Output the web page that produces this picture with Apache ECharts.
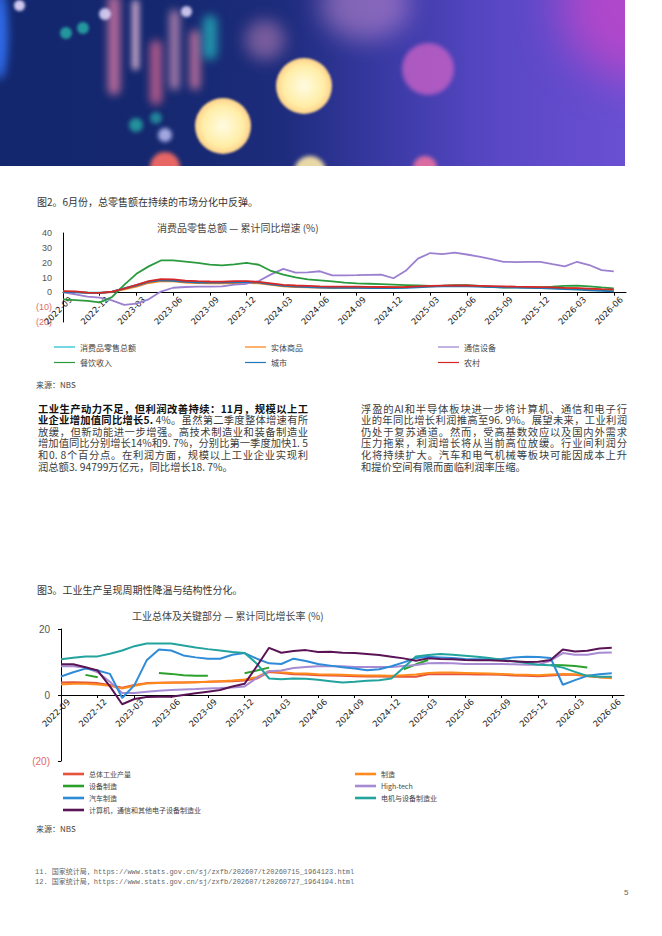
<!DOCTYPE html>
<html><head><meta charset="utf-8">
<script src="https://cdn.jsdelivr.net/npm/echarts@6/dist/echarts.min.js"></script>
<style>
html,body{margin:0;padding:0;background:#fff;}
#page{position:relative;width:662px;height:936px;overflow:hidden;background:#fff;font-family:"Noto Sans CJK SC","Noto Sans",sans-serif;}
.abs{position:absolute;white-space:nowrap;}
.cap{font-size:10px;line-height:12px;color:#333;}
.src{font-size:8px;line-height:10px;color:#444;}
.para{position:absolute;font-size:10.3px;color:#3c3c3c;}
.para .ln{height:11.6px;line-height:11.6px;text-align:justify;text-align-last:justify;}
.para .ln.last{text-align-last:left;}
.b{font-weight:bold;color:#111;}
.fn{font-family:"Liberation Mono","Noto Sans CJK SC",monospace;font-size:7px;line-height:10px;color:#666;}
#banner{position:absolute;left:0;top:0;width:625px;height:166px;overflow:hidden;
background:linear-gradient(90deg,#13276e 0%,#15286f 25%,#1d2c7c 45%,#3a3aa5 62%,#5a48c6 80%,#6a4fd2 100%);}
.blob{position:absolute;border-radius:50%;}
#chart{position:absolute;left:0;top:0;width:662px;height:936px;}
</style></head>
<body>
<div id="page">
  <div id="banner">
    <div class="blob" style="left:560px;top:-70px;width:160px;height:150px;background:rgba(200,70,200,0.75);filter:blur(22px)"></div>
    <div class="blob" style="left:320px;top:-30px;width:90px;height:70px;background:rgba(230,160,220,0.45);filter:blur(12px)"></div>
    <div class="blob" style="left:-8px;top:-10px;width:16px;height:90px;background:#2f6ae8;filter:blur(4px)"></div>
    <div class="blob" style="left:108px;top:-5px;width:12px;height:100px;border-radius:6px;background:rgba(240,130,170,0.75);filter:blur(4px)"></div>
    <div class="blob" style="left:132px;top:0px;width:7px;height:70px;border-radius:4px;background:rgba(255,200,225,0.8);filter:blur(3px)"></div>
    <div class="blob" style="left:150px;top:40px;width:12px;height:65px;border-radius:6px;background:rgba(240,110,150,0.7);filter:blur(4px)"></div>
    <div class="blob" style="left:170px;top:10px;width:9px;height:80px;border-radius:5px;background:rgba(250,170,200,0.7);filter:blur(4px)"></div>
    <div class="blob" style="left:190px;top:30px;width:10px;height:60px;border-radius:5px;background:rgba(255,140,170,0.7);filter:blur(4px)"></div>
    <div class="blob" style="left:203px;top:15px;width:14px;height:45px;border-radius:7px;background:rgba(40,220,210,0.6);filter:blur(5px)"></div>
    <div class="blob" style="left:245px;top:20px;width:40px;height:40px;background:rgba(230,150,200,0.45);filter:blur(8px)"></div>
    <div class="blob" style="left:14px;top:0px;width:11px;height:11px;background:rgba(230,220,255,0.9);filter:blur(1.5px)"></div>
    <div class="blob" style="left:99px;top:8px;width:12px;height:12px;background:rgba(230,220,255,0.85);filter:blur(1.5px)"></div>
    <div class="blob" style="left:181px;top:6px;width:11px;height:11px;background:rgba(230,220,255,0.85);filter:blur(1.5px)"></div>
    <div class="blob" style="left:60px;top:27px;width:12px;height:12px;background:rgba(40,180,170,0.8);filter:blur(1.5px)"></div>
    <div class="blob" style="left:77px;top:22px;width:12px;height:12px;background:rgba(40,180,170,0.8);filter:blur(1.5px)"></div>
    <div class="blob" style="left:129px;top:118px;width:14px;height:14px;background:rgba(40,180,170,0.75);filter:blur(2px)"></div>
    <div class="blob" style="left:150px;top:112px;width:12px;height:12px;background:rgba(40,170,170,0.7);filter:blur(2px)"></div>
    <div class="blob" style="left:158px;top:128px;width:14px;height:14px;background:rgba(200,200,255,0.8);filter:blur(2px)"></div>
    <div class="blob" style="left:195px;top:98px;width:56px;height:56px;background:radial-gradient(circle,#fffbe2 0%,#ffeea8 50%,#ffc27a 82%,#ff8a8a 100%);filter:blur(1px)"></div>
    <div class="blob" style="left:276px;top:58px;width:56px;height:56px;background:radial-gradient(circle,#fffbe2 0%,#ffeea8 50%,#ffc27a 82%,#ff8a8a 100%);filter:blur(1px)"></div>
    <div class="blob" style="left:402px;top:43px;width:52px;height:52px;background:rgba(214,100,200,0.72);filter:blur(2px)"></div>
    <div class="blob" style="left:150px;top:152px;width:30px;height:30px;background:rgba(255,110,100,0.9);filter:blur(2px)"></div>
    <div class="blob" style="left:294px;top:156px;width:32px;height:32px;background:rgba(255,235,170,0.9);filter:blur(2px)"></div>
    <div class="blob" style="left:413px;top:156px;width:24px;height:24px;background:rgba(255,120,160,0.8);filter:blur(2px)"></div>
  </div>

  <div class="abs cap" style="left:37px;top:196px;">图2。6月份，总零售额在持续的市场分化中反弹。</div>
  <div class="abs src" style="left:36px;top:380px;">来源：NBS</div>

  <div class="para" style="left:38px;top:402.7px;width:270px;">
    <div class="ln b">工业生产动力不足，但利润改善持续：11月，规模以上工</div>
    <div class="ln"><span class="b">业企业增加值同比增长5.</span> 4%。虽然第二季度整体增速有所</div>
    <div class="ln">放缓，但新动能进一步增强。高技术制造业和装备制造业</div>
    <div class="ln">增加值同比分别增长14%和9. 7%，分别比第一季度加快1. 5</div>
    <div class="ln">和0. 8个百分点。在利润方面，规模以上工业企业实现利</div>
    <div class="ln last">润总额3. 94799万亿元，同比增长18. 7%。</div>
  </div>
  <div class="para" style="left:361px;top:402.7px;width:266px;">
    <div class="ln">浮盈的AI和半导体板块进一步将计算机、通信和电子行</div>
    <div class="ln">业的年同比增长利润推高至96. 9%。展望未来，工业利润</div>
    <div class="ln">仍处于复苏通道。然而，受高基数效应以及国内外需求</div>
    <div class="ln">压力拖累，利润增长将从当前高位放缓。行业间利润分</div>
    <div class="ln">化将持续扩大。汽车和电气机械等板块可能因成本上升</div>
    <div class="ln last">和提价空间有限而面临利润率压缩。</div>
  </div>

  <div class="abs cap" style="left:37px;top:584px;">图3。工业生产呈现周期性降温与结构性分化。</div>
  <div class="abs src" style="left:36px;top:824px;">来源：NBS</div>

  <div class="abs fn" style="left:35px;top:867px;">11. 国家统计局，https://www.stats.gov.cn/sj/zxfb/202607/t20260715_1964123.html</div>
  <div class="abs fn" style="left:35px;top:877px;">12. 国家统计局，https://www.stats.gov.cn/sj/zxfb/202607/t20260727_1964194.html</div>
  <div class="abs" style="left:624px;top:888px;font-size:8px;line-height:10px;color:#666;font-family:'Liberation Sans';">5</div>

  <div id="chart"></div>
</div>
<script>
// ---------- data ----------
const months = ['2022-09','2022-10','2022-11','2022-12','2023-01','2023-02','2023-03','2023-04','2023-05','2023-06','2023-07','2023-08','2023-09','2023-10','2023-11','2023-12','2024-01','2024-02','2024-03','2024-04','2024-05','2024-06','2024-07','2024-08','2024-09','2024-10','2024-11','2024-12','2025-01','2025-02','2025-03','2025-04','2025-05','2025-06','2025-07','2025-08','2025-09','2025-10','2025-11','2025-12','2026-01','2026-02','2026-03','2026-04','2026-05','2026-06','2026-07'];

// Chart 1: retail sales, cumulative YoY (%)
const retailTotal = [0.5,0.2,-0.1,-0.2,0.5,2.8,4.8,7.2,8.4,8.2,7.3,7.0,6.9,6.8,7.1,7.2,6.7,5.6,4.7,4.1,3.7,3.5,3.4,3.4,3.3,3.3,3.3,3.2,3.4,3.8,4.1,4.3,4.4,4.4,4.1,3.9,3.7,3.5,3.3,3.1,2.9,2.6,2.3,1.9,1.5,1.2];
const physicalGoods = [0.5,0.3,-0.4,-0.6,0.2,2.0,3.8,6.3,7.6,7.4,6.6,6.2,6.0,6.0,6.2,6.4,6.0,5.0,4.0,3.6,3.4,3.2,3.1,3.1,3.1,3.2,3.3,3.3,3.5,3.8,4.1,4.3,4.4,4.4,4.2,3.9,3.7,3.5,3.3,3.2,3.0,2.8,2.6,2.2,1.8,1.5];
const telecomEquip = [0.0,-1.3,-2.9,-3.6,-5.4,-8.4,-7.6,-4.7,0.5,3.1,3.6,3.8,3.8,4.0,5.2,5.8,7.6,12.1,15.8,13.3,13.5,14.2,11.5,11.5,11.6,11.8,12.0,9.5,14.5,22.7,26.5,25.8,26.8,25.5,24.0,22.4,20.6,20.4,20.6,20.6,19.0,17.5,20.6,18.4,15.0,14.1];
const catering = [-4.7,-5.2,-5.8,-6.8,-3.2,5.0,12.5,17.5,21.5,21.6,20.7,19.8,18.7,18.2,18.9,19.9,18.6,14.4,11.9,10.1,8.8,8.1,7.4,6.5,6.1,5.8,5.5,5.2,4.9,4.6,4.3,4.5,4.8,4.8,4.3,3.7,3.2,3.3,3.4,3.4,3.8,4.3,4.5,4.0,3.3,2.7];
const urban = [0.3,0.0,-0.3,-0.5,0.3,2.5,4.5,7.0,8.0,7.8,7.0,6.6,6.6,6.5,6.8,7.0,6.5,5.4,4.4,3.9,3.5,3.2,3.0,3.0,3.0,2.9,2.8,2.8,3.0,3.4,3.8,4.0,4.1,4.1,3.8,3.6,3.4,3.2,3.0,2.8,2.5,2.2,1.8,1.4,1.0,0.6];
const rural = [0.8,0.6,-0.2,-0.3,0.5,2.5,5.0,7.5,8.9,8.7,7.8,7.5,7.3,7.2,7.5,7.6,7.0,6.0,5.0,4.6,4.3,4.0,3.9,3.8,3.8,3.7,3.6,3.5,3.6,4.0,4.3,4.5,4.6,4.6,4.4,4.2,4.0,3.8,3.7,3.5,3.3,3.0,2.8,2.5,2.2,2.0];

// Chart 2: industrial output, cumulative YoY (%)
const totalIndustry = [3.8,3.9,3.8,3.6,3.0,2.2,3.0,3.6,3.7,3.8,3.8,3.9,4.0,4.1,4.2,4.4,5.0,7.0,6.7,6.3,6.2,6.0,5.9,5.8,5.7,5.6,5.6,5.5,5.5,5.5,6.3,6.3,6.3,6.3,6.2,6.2,6.1,5.9,5.8,5.7,5.9,6.1,6.1,5.7,5.4,5.3];
const manufacturing = [3.2,3.4,3.4,3.2,2.8,2.0,2.8,3.5,3.6,3.7,3.8,3.9,4.0,4.2,4.4,4.7,5.4,7.3,6.9,6.6,6.5,6.3,6.2,6.1,6.0,5.9,5.9,5.8,6.0,6.2,6.7,6.8,6.8,6.7,6.6,6.5,6.4,6.2,6.1,6.0,6.2,6.4,6.3,5.9,5.4,5.1];
const equipmentMfg = [null,null,6.1,5.4,null,null,null,null,6.7,6.4,6.0,5.8,5.8,null,null,6.6,7.4,8.3,null,null,null,null,null,null,null,null,null,null,7.8,9.3,10.6,null,null,null,null,null,null,null,null,null,9.1,9.0,8.8,8.3,null,null];
const highTech = [8.7,8.7,8.3,6.9,4.0,0.6,0.6,1.0,1.3,1.5,1.7,1.8,2.0,2.1,2.3,2.6,5.2,7.2,7.4,8.2,8.5,8.7,8.7,8.7,8.5,8.5,8.5,8.5,8.8,9.1,9.6,9.7,9.6,9.4,9.4,9.4,9.4,9.3,9.2,9.2,10.4,12.7,12.2,12.2,12.8,12.9];
const autoMfg = [5.6,6.9,8.0,7.4,6.4,-0.9,3.0,10.5,13.8,13.5,12.0,11.4,11.0,11.0,12.2,12.7,11.0,9.6,9.4,11.0,10.3,9.4,8.9,8.4,8.0,7.5,7.8,8.7,9.9,11.2,11.6,11.4,11.2,10.9,10.8,10.8,10.9,11.4,11.6,11.5,11.2,3.1,4.5,5.8,6.3,6.6];
const electricalMfg = [10.8,11.3,11.7,11.7,12.5,13.5,14.8,15.6,15.6,15.6,15.0,14.4,13.9,13.5,13.0,12.7,9.5,5.0,4.8,5.0,4.9,4.6,4.2,3.8,4.0,4.3,4.5,5.0,8.3,11.7,12.1,12.4,12.2,11.9,11.6,11.2,10.7,10.2,9.7,9.2,9.0,8.3,7.0,5.8,5.5,5.5];
const computerMfg = [9.3,9.3,8.4,7.4,2.6,-2.8,-1.2,-0.6,-0.5,-0.5,0.0,0.5,1.0,1.5,2.6,3.4,8.7,14.3,12.8,13.3,13.6,13.0,13.1,12.8,12.7,12.4,12.1,11.6,11.1,10.4,11.1,10.9,10.8,10.6,10.5,10.5,10.4,10.2,10.0,10.1,10.6,13.8,13.2,13.4,14.1,14.3];

// ---------- chart ----------
const CJK = '"Noto Sans CJK SC", "Noto Sans", sans-serif';
function line(name, data, color, idx, width){
  return {name:name, type:'line', xAxisIndex:idx, yAxisIndex:idx, data:data,
    symbol:'none', showSymbol:false, connectNulls:false,
    lineStyle:{color:color, width:width}, itemStyle:{color:color},
    emphasis:{disabled:true}, animation:false};
}
// x axis drawn at the value-0 line (offset up from the grid bottom)
function xAxisCfg(gi, off){
  return {type:'category', gridIndex:gi, data:months, boundaryGap:false, position:'bottom', offset:off,
    axisLine:{onZero:false, lineStyle:{color:'#000', width:1}},
    axisTick:{show:true, interval:2, length:3, lineStyle:{color:'#000'}},
    splitLine:{show:false},
    axisLabel:{interval:2, rotate:45, align:'center', verticalAlign:'middle', margin:13,
      fontFamily:'DejaVu Sans', fontSize:8.5, color:'#222',
      formatter:function(v){return v + '{p|}';}, rich:{p:{width:14}}}};
}
function yAxisCfg(gi, min, max, step, fs, ticks){
  return {type:'value', gridIndex:gi, min:min, max:max, interval:step,
    axisLine:{show:true, onZero:false, lineStyle:{color:'#000', width:1}},
    axisTick:{show:ticks, length:3, lineStyle:{color:'#000'}},
    splitLine:{show:false},
    axisLabel:{margin:11,
      formatter:function(v){return v < 0 ? '{n|(' + (-v) + ')}' : '{p|' + v + '}';},
      rich:{n:{color:'#e06a6a', fontSize:fs, fontFamily:'Liberation Sans'},
            p:{color:'#555', fontSize:fs, fontFamily:'Liberation Sans'}}}};
}
function legendCfg(left, top, names, fs, lh, gap, iconH){
  return {left:left, top:top, orient:'vertical', padding:0, itemWidth:21, itemHeight:iconH, itemGap:gap,
    icon:'rect', data:names, selectedMode:false,
    textStyle:{fontSize:fs, color:'#444', fontFamily:CJK, lineHeight:lh, height:lh}};
}

const chart = echarts.init(document.getElementById('chart'), null, {renderer:'svg'});
chart.setOption({
  backgroundColor:'transparent',
  animation:false,
  textStyle:{fontFamily:CJK},
  title:[
    {text:'消费品零售总额 — 累计同比增速 (%)', left:157, top:222, padding:0,
     textStyle:{fontSize:10, fontWeight:'normal', color:'#444', fontFamily:CJK}},
    {text:'工业总体及关键部分 — 累计同比增长率 (%)', left:132, top:610, padding:0,
     textStyle:{fontSize:10, fontWeight:'normal', color:'#444', fontFamily:CJK}}
  ],
  grid:[
    {left:63, top:233, width:563, height:89, outerBoundsMode:'none', containLabel:false},
    {left:61, top:629, width:563, height:132, outerBoundsMode:'none', containLabel:false}
  ],
  xAxis:[xAxisCfg(0, -29.3), xAxisCfg(1, -66)],
  yAxis:[yAxisCfg(0, -20, 40, 10, 9, false), yAxisCfg(1, -20, 20, 20, 10, true)],
  legend:[
    legendCfg(54, 342, ['消费品零售总额','餐饮收入'], 8, 10, 5.5, 1.2),
    legendCfg(245, 342, ['实体商品','城市'], 8, 10, 5.5, 1.2),
    legendCfg(438, 342, ['通信设备','农村'], 8, 10, 5.5, 1.2),
    legendCfg(63, 770, ['总体工业产量','设备制造','汽车制造','计算机，通信和其他电子设备制造业'], 7, 8, 4, 2.6),
    legendCfg(355, 770, ['制造','High-tech','电机与设备制造业'], 7, 8, 4, 2.6)
  ],
  series:[
    line('消费品零售总额', retailTotal, '#17becf', 0, 1.8),
    line('实体商品', physicalGoods, '#ff7f0e', 0, 1.8),
    line('通信设备', telecomEquip, '#9b80d0', 0, 1.8),
    line('餐饮收入', catering, '#2a9a3e', 0, 1.8),
    line('城市', urban, '#1f77b4', 0, 1.8),
    line('农村', rural, '#d62728', 0, 1.8),
    line('总体工业产量', totalIndustry, '#e5533d', 1, 2),
    line('制造', manufacturing, '#ff8a1c', 1, 2),
    line('设备制造', equipmentMfg, '#2ca02c', 1, 2),
    line('High-tech', highTech, '#a68bd3', 1, 2),
    line('汽车制造', autoMfg, '#2d8bd8', 1, 2),
    line('电机与设备制造业', electricalMfg, '#22a39e', 1, 2),
    line('计算机，通信和其他电子设备制造业', computerMfg, '#5a1456', 1, 2)
  ]
});
</script>
</body></html>
